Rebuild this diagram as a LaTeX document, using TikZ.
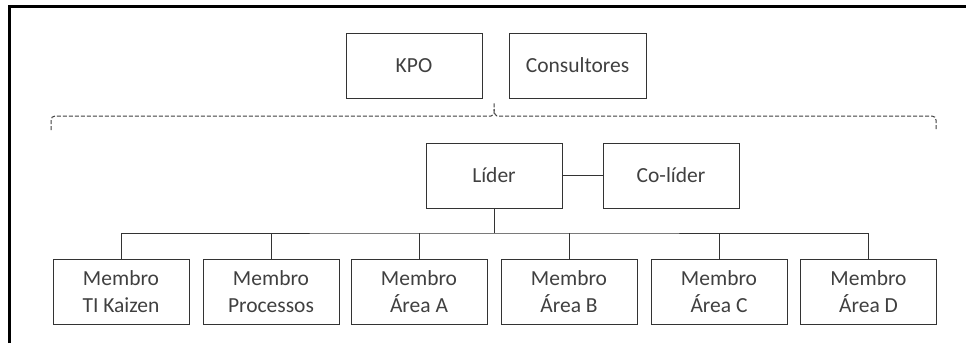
\documentclass[tikz,border=0pt]{standalone}
\usepackage{fontspec}
\setmainfont{Carlito}
\begin{document}
\begin{tikzpicture}[x=1pt,y=-1pt,
  orgbox/.style={draw=black!80, line width=1pt, minimum width=136pt, minimum height=65pt,
    inner sep=0pt, align=center, text=black!75,
    font=\fontsize{21.5}{26.7}\selectfont},
  link/.style={draw=black!80, line width=1pt},
  bracket/.style={draw=black!75, line width=1pt, dash pattern=on 4pt off 2pt}]
\useasboundingbox (0,0) rectangle (966,343);
\fill[white] (0,0) rectangle (966,343);
% frame
\draw[line width=3pt] (9.5,343) -- (9.5,6) -- (966,6);
% top boxes
\node[orgbox] (kpo) at (414,65.5) {KPO};
\node[orgbox, minimum width=137pt] (cons) at (577.5,65.5) {Consultores};
% dashed brace
\coordinate (peak) at (494,103);
\draw[bracket, rounded corners=4pt] (51,130) -- (51,116) -- (487,116)
  .. controls (492,116) and (494,114) .. (494,109) -- (peak);
\draw[bracket, rounded corners=4pt] (936,129) -- (936,116) -- (501,116)
  .. controls (496,116) and (494,114) .. (494,109);
% leader level
\node[orgbox] (lider) at (494,175.5) {Líder};
\node[orgbox] (colider) at (671,175.5) {Co-líder};
\draw[link] (lider.east) -- (colider.west);
% members
\node[orgbox] (m1) at (121,291.5) {Membro\\TI Kaizen};
\node[orgbox] (m2) at (271,291.5) {Membro\\Processos};
\node[orgbox] (m3) at (419,291.5) {Membro\\Área A};
\node[orgbox] (m4) at (569,291.5) {Membro\\Área B};
\node[orgbox] (m5) at (719,291.5) {Membro\\Área C};
\node[orgbox] (m6) at (868.5,291.5) {Membro\\Área D};
\coordinate (bus) at (494,233);
\draw[link] (lider.south) -- (bus);
\draw[link] (m1.north) |- (bus) -| (m6.north);
\foreach \m in {m2,m3,m4,m5}
  \draw[link] (\m.north) -- (\m.north |- bus);
\end{tikzpicture}
\end{document}
